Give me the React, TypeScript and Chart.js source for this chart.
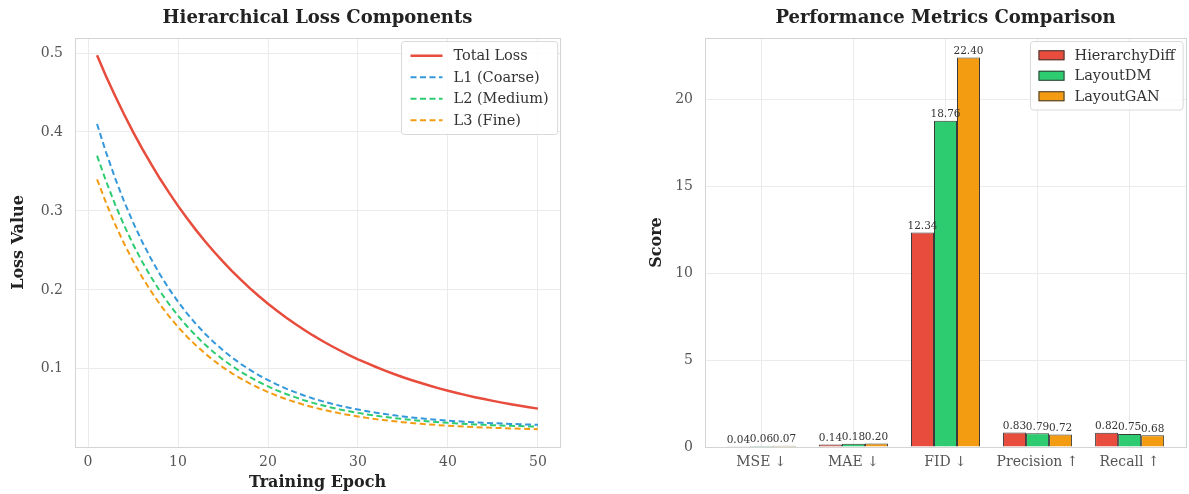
import React, { useEffect, useRef } from 'react';
import { Chart, registerables } from 'chart.js';

Chart.register(...registerables);

const FONT = '"DejaVu Serif", serif';

// ---- Left chart data ----
const epochs = [
  1, 2, 3, 4, 5, 6, 7, 8, 9, 10, 11, 12, 13, 14, 15, 16, 17, 18, 19, 20, 21, 22, 23, 24, 25,
  26, 27, 28, 29, 30, 31, 32, 33, 34, 35, 36, 37, 38, 39, 40, 41, 42, 43, 44, 45, 46, 47, 48, 49, 50,
];
const totalLoss = [
  0.497, 0.4707, 0.4459, 0.4224, 0.4002, 0.3793, 0.3595, 0.3407, 0.3231, 0.3064,
  0.2906, 0.2757, 0.2616, 0.2483, 0.2357, 0.2238, 0.2126, 0.2019, 0.1919, 0.1824,
  0.1735, 0.165, 0.157, 0.1495, 0.1423, 0.1356, 0.1292, 0.1232, 0.1175, 0.1121,
  0.1071, 0.1023, 0.0977, 0.0934, 0.0894, 0.0856, 0.082, 0.0785, 0.0753, 0.0723,
  0.0694, 0.0667, 0.0641, 0.0617, 0.0594, 0.0572, 0.0551, 0.0532, 0.0514, 0.0496,
];
const l1Coarse = [
  0.41, 0.3742, 0.3417, 0.3122, 0.2855, 0.2613, 0.2393, 0.2194, 0.2013, 0.185,
  0.1701, 0.1567, 0.1445, 0.1334, 0.1234, 0.1143, 0.106, 0.0986, 0.0918, 0.0857,
  0.0801, 0.075, 0.0705, 0.0663, 0.0625, 0.0591, 0.056, 0.0532, 0.0507, 0.0484,
  0.0463, 0.0444, 0.0427, 0.0411, 0.0397, 0.0384, 0.0373, 0.0362, 0.0353, 0.0344,
  0.0336, 0.0329, 0.0323, 0.0317, 0.0311, 0.0307, 0.0302, 0.0298, 0.0295, 0.0292,
];
const l2Medium = [
  0.37, 0.3377, 0.3084, 0.2819, 0.2578, 0.236, 0.2162, 0.1982, 0.182, 0.1672,
  0.1539, 0.1417, 0.1307, 0.1208, 0.1117, 0.1036, 0.0961, 0.0894, 0.0833, 0.0778,
  0.0727, 0.0682, 0.0641, 0.0603, 0.0569, 0.0539, 0.0511, 0.0485, 0.0463, 0.0442,
  0.0423, 0.0406, 0.039, 0.0376, 0.0364, 0.0352, 0.0342, 0.0332, 0.0324, 0.0316,
  0.0309, 0.0302, 0.0296, 0.0291, 0.0286, 0.0282, 0.0278, 0.0275, 0.0271, 0.0268,
];
const l3Fine = [
  0.34, 0.3102, 0.2832, 0.2587, 0.2366, 0.2164, 0.1982, 0.1816, 0.1666, 0.153,
  0.1407, 0.1296, 0.1194, 0.1102, 0.1019, 0.0943, 0.0875, 0.0813, 0.0757, 0.0706,
  0.0659, 0.0617, 0.0579, 0.0545, 0.0514, 0.0485, 0.046, 0.0436, 0.0415, 0.0396,
  0.0379, 0.0363, 0.0349, 0.0336, 0.0324, 0.0313, 0.0304, 0.0295, 0.0287, 0.028,
  0.0273, 0.0267, 0.0262, 0.0257, 0.0253, 0.0249, 0.0245, 0.0242, 0.0239, 0.0236,
];
const lossXTicks = [0, 10, 20, 30, 40, 50];
const lossYTicks = [0.1, 0.2, 0.3, 0.4, 0.5];

// ---- Right chart data ----
const metricCategories = ['MSE ↓', 'MAE ↓', 'FID ↓', 'Precision ↑', 'Recall ↑'];
const hierarchyDiff = [0.04, 0.14, 12.34, 0.83, 0.82];
const layoutDM = [0.06, 0.18, 18.76, 0.79, 0.75];
const layoutGAN = [0.07, 0.2, 22.4, 0.72, 0.68];
const scoreTicks = [0, 5, 10, 15, 20];

// ---- Plugins ----
const titlePlugin = {
  id: 'axTitle',
  afterDraw(chart: any, _a: any, opts: any) {
    const { ctx, chartArea } = chart;
    ctx.save();
    ctx.font = `bold ${opts.size}px ${FONT}`;
    ctx.fillStyle = '#222';
    ctx.textAlign = 'center';
    ctx.textBaseline = 'middle';
    ctx.fillText(opts.text, (chartArea.left + chartArea.right) / 2, opts.y);
    ctx.restore();
  },
};

const framePlugin = {
  id: 'frame',
  afterDatasetsDraw(chart: any) {
    const { ctx, chartArea } = chart;
    ctx.save();
    ctx.strokeStyle = '#d4d4d4';
    ctx.lineWidth = 1;
    ctx.strokeRect(
      Math.round(chartArea.left) + 0.5,
      Math.round(chartArea.top) + 0.5,
      Math.round(chartArea.right - chartArea.left),
      Math.round(chartArea.bottom - chartArea.top)
    );
    ctx.restore();
  },
};

const valueLabelPlugin = {
  id: 'valueLabels',
  afterDatasetsDraw(chart: any) {
    const { ctx } = chart;
    ctx.save();
    ctx.font = `10.5px ${FONT}`;
    ctx.fillStyle = '#333';
    ctx.textAlign = 'center';
    ctx.textBaseline = 'bottom';
    chart.data.datasets.forEach((ds: any, i: number) => {
      const meta = chart.getDatasetMeta(i);
      meta.data.forEach((el: any, j: number) => {
        ctx.fillText(Number(ds.data[j].y).toFixed(2), el.x, el.y - 1);
      });
    });
    ctx.restore();
  },
};

const cornerLegendPlugin = {
  id: 'cornerLegend',
  afterDraw(chart: any, _a: any, opts: any) {
    const { ctx, chartArea } = chart;
    const dsets = chart.data.datasets;
    ctx.save();
    ctx.font = `${opts.fontSize}px ${FONT}`;
    const textW = Math.max(...dsets.map((d: any) => ctx.measureText(d.label).width));
    const w = opts.padX + opts.sampleW + opts.gap + textW + opts.padX;
    const h = opts.padY * 2 + dsets.length * opts.rowH;
    const x0 = Math.round(chartArea.right - opts.margin - w) + 0.5;
    const y0 = Math.round(chartArea.top + opts.margin) + 0.5;
    ctx.beginPath();
    ctx.roundRect(x0, y0, w, h, 3);
    ctx.fillStyle = 'rgba(255,255,255,0.85)';
    ctx.fill();
    ctx.strokeStyle = '#d9d9d9';
    ctx.lineWidth = 1;
    ctx.stroke();
    dsets.forEach((d: any, i: number) => {
      const cy = y0 + opts.padY + opts.rowH * (i + 0.5);
      const sx = x0 + opts.padX;
      if (opts.kind === 'line') {
        ctx.beginPath();
        ctx.setLineDash(d.borderDash || []);
        ctx.strokeStyle = d.borderColor;
        ctx.lineWidth = d.borderWidth;
        ctx.moveTo(sx, cy);
        ctx.lineTo(sx + opts.sampleW, cy);
        ctx.stroke();
        ctx.setLineDash([]);
      } else {
        ctx.fillStyle = d.backgroundColor;
        ctx.fillRect(sx, cy - opts.boxH / 2, opts.sampleW, opts.boxH);
        ctx.strokeStyle = d.borderColor;
        ctx.lineWidth = 1;
        ctx.strokeRect(sx + 0.5, cy - opts.boxH / 2 + 0.5, opts.sampleW - 1, opts.boxH - 1);
      }
      ctx.fillStyle = '#333';
      ctx.textAlign = 'left';
      ctx.textBaseline = 'middle';
      ctx.fillText(d.label, sx + opts.sampleW + opts.gap, cy + 0.5);
    });
    ctx.restore();
  },
};

const tickFont = { family: FONT, size: 14 };
const axisTitleFont = { family: FONT, size: 16, weight: 'bold' as const };
const gridOpts = { color: '#ebebeb', lineWidth: 1, drawTicks: false };

function LossChart() {
  const ref = useRef<HTMLCanvasElement>(null);
  useEffect(() => {
    const mk = (d: number[]) => epochs.map((e, i) => ({ x: e, y: d[i] }));
    const chart = new Chart(ref.current!, {
      type: 'line',
      data: {
        datasets: [
          { label: 'Total Loss', data: mk(totalLoss), borderColor: '#e74c3c', borderWidth: 2.5, pointRadius: 0, fill: false },
          { label: 'L1 (Coarse)', data: mk(l1Coarse), borderColor: '#3498db', borderWidth: 2, borderDash: [6, 3.5], pointRadius: 0, fill: false },
          { label: 'L2 (Medium)', data: mk(l2Medium), borderColor: '#2ecc71', borderWidth: 2, borderDash: [6, 3.5], pointRadius: 0, fill: false },
          { label: 'L3 (Fine)', data: mk(l3Fine), borderColor: '#f39c12', borderWidth: 2, borderDash: [6, 3.5], pointRadius: 0, fill: false },
        ],
      },
      options: {
        animation: false,
        responsive: false,
        layout: { padding: { top: 38, right: 30, left: 0, bottom: 0 } },
        plugins: {
          legend: { display: false },
          tooltip: { enabled: false },
          axTitle: { text: 'Hierarchical Loss Components', size: 18, y: 18 },
          cornerLegend: { kind: 'line', fontSize: 14.5, padX: 9, padY: 3.5, rowH: 21.5, sampleW: 32, gap: 11, margin: 3 },
        } as any,
        scales: {
          x: {
            type: 'linear',
            min: -1.45,
            max: 52.45,
            afterBuildTicks: (s: any) => { s.ticks = lossXTicks.map((v) => ({ value: v })); },
            afterFit: (s: any) => { s.height = 47; },
            grid: gridOpts,
            border: { display: false },
            ticks: { padding: 7, color: '#555', font: tickFont, callback: (v: any) => String(v) },
            title: { display: true, text: 'Training Epoch', color: '#222', font: axisTitleFont, padding: { top: 0, bottom: 2 } },
          },
          y: {
            type: 'linear',
            min: 0.001,
            max: 0.519,
            afterBuildTicks: (s: any) => { s.ticks = lossYTicks.map((v) => ({ value: v })); },
            afterFit: (s: any) => { s.width = 75; },
            grid: gridOpts,
            border: { display: false },
            ticks: { padding: 12, color: '#555', font: tickFont, callback: (v: any) => Number(v).toFixed(1) },
            title: { display: true, text: 'Loss Value', color: '#222', font: axisTitleFont, padding: { top: 9, bottom: 0 } },
          },
        },
      },
      plugins: [titlePlugin, framePlugin, cornerLegendPlugin],
    } as any);
    return () => chart.destroy();
  }, []);
  return <canvas ref={ref} width={590} height={494} style={{ position: 'absolute', left: 0, top: 0, display: 'block' }} />;
}

function MetricsChart() {
  const ref = useRef<HTMLCanvasElement>(null);
  useEffect(() => {
    const mk = (d: number[]) => d.map((v, i) => ({ x: i, y: v }));
    const chart = new Chart(ref.current!, {
      type: 'bar',
      data: {
        datasets: [
          { label: 'HierarchyDiff', data: mk(hierarchyDiff), backgroundColor: '#e74c3c', borderColor: '#3a3a3a', borderWidth: 1 },
          { label: 'LayoutDM', data: mk(layoutDM), backgroundColor: '#2ecc71', borderColor: '#3a3a3a', borderWidth: 1 },
          { label: 'LayoutGAN', data: mk(layoutGAN), backgroundColor: '#f39c12', borderColor: '#3a3a3a', borderWidth: 1 },
        ],
      },
      options: {
        animation: false,
        responsive: false,
        categoryPercentage: 0.75,
        barPercentage: 1.0,
        layout: { padding: { top: 38, right: 3, left: 0, bottom: 0 } },
        plugins: {
          legend: { display: false },
          tooltip: { enabled: false },
          axTitle: { text: 'Performance Metrics Comparison', size: 18, y: 18 },
          cornerLegend: { kind: 'box', fontSize: 14.5, padX: 8, padY: 3.5, rowH: 20.5, sampleW: 26, boxH: 10, gap: 10, margin: 3 },
        } as any,
        scales: {
          x: {
            type: 'linear',
            min: -0.6125,
            max: 4.6125,
            offset: false,
            afterBuildTicks: (s: any) => { s.ticks = metricCategories.map((_, i) => ({ value: i })); },
            afterFit: (s: any) => { s.height = 47; },
            grid: { ...gridOpts, offset: false },
            border: { display: false },
            ticks: { padding: 7, color: '#555', font: tickFont, callback: (v: any) => metricCategories[v] ?? '' },
          },
          y: {
            type: 'linear',
            min: 0,
            max: 23.52,
            afterBuildTicks: (s: any) => { s.ticks = scoreTicks.map((v) => ({ value: v })); },
            afterFit: (s: any) => { s.width = 115; },
            grid: gridOpts,
            border: { display: false },
            ticks: { padding: 12, color: '#555', font: tickFont, callback: (v: any) => String(v) },
            title: { display: true, text: 'Score', color: '#222', font: axisTitleFont, padding: { top: 57, bottom: 0 } },
          },
        },
      },
      plugins: [titlePlugin, framePlugin, valueLabelPlugin, cornerLegendPlugin],
    } as any);
    return () => chart.destroy();
  }, []);
  return <canvas ref={ref} width={599} height={494} style={{ position: 'absolute', left: 590, top: 0, display: 'block' }} />;
}

export default function App() {
  return (
    <div style={{ position: 'fixed', left: 0, top: 0, width: 1189, height: 494, background: '#fff', overflow: 'hidden' }}>
      <LossChart />
      <MetricsChart />
    </div>
  );
}
